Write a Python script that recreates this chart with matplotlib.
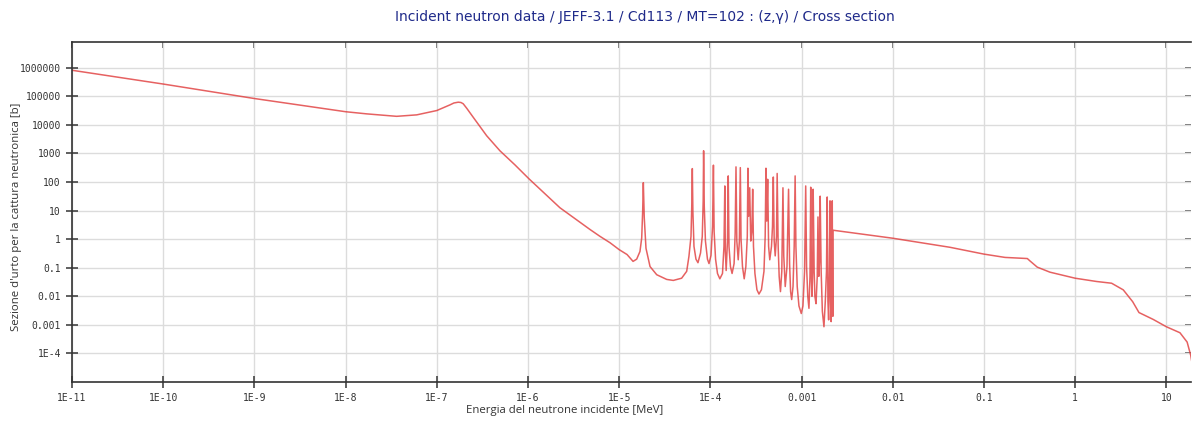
import numpy as np
import matplotlib
matplotlib.use('Agg')
import matplotlib.pyplot as plt
from matplotlib.ticker import FixedLocator, FixedFormatter, NullLocator

# energia [MeV] e sezione d'urto di cattura [b], letti dal grafico
# regione termica + 1/v
e_thermal = [1e-11, 1e-10, 1e-9, 1e-8, 1.70e-8, 3.63e-8, 6.03e-8, 1e-7,
             1.40e-7, 1.54e-7, 1.72e-7, 1.84e-7, 1.95e-7, 2.14e-7, 2.51e-7,
             3.52e-7, 4.93e-7, 7.19e-7, 1.03e-6, 2.24e-6, 4.79e-6, 6.15e-6,
             7.94e-6, 1e-5, 1.22e-5]
s_thermal = [8.2e5, 2.7e5, 8.4e4, 2.9e4, 2.44e4, 2.0e4, 2.25e4, 3.19e4,
             5.06e4, 5.86e4, 6.25e4, 6.1e4, 5.5e4, 3.75e4, 1.85e4,
             4.2e3, 1.24e3, 400, 128, 12.6, 2.18, 1.26,
             0.75, 0.43, 0.29]

# regione delle risonanze risolte (valli, fianchi, picchi)
e_res = [1.42e-5, 1.556e-5, 1.69e-5, 1.766e-5, 1.81e-5, 1.84e-5, 1.884e-5,
         1.968e-5, 2.18e-5, 2.58e-5, 3.32e-5, 3.92e-5, 4.84e-5, 5.50e-5,
         5.82e-5, 6.13e-5, 6.25e-5, 6.34e-5, 6.43e-5, 6.61e-5, 6.95e-5, 7.31e-5, 7.80e-5,
         8.15e-5, 8.34e-5, 8.43e-5, 8.57e-5, 8.83e-5, 9.29e-5, 9.66e-5, 1.016e-4,
         1.057e-4, 1.08e-4, 1.099e-4, 1.14e-4, 1.197e-4, 1.27e-4, 1.358e-4,
         1.41e-4, 1.44e-4, 1.46e-4, 1.49e-4,
         1.54e-4, 1.57e-4, 1.60e-4, 1.66e-4, 1.73e-4, 1.82e-4,
         1.87e-4, 1.91e-4, 1.95e-4, 2.02e-4, 2.08e-4,
         2.13e-4, 2.17e-4, 2.25e-4, 2.35e-4, 2.45e-4,
         2.54e-4, 2.58e-4, 2.63e-4, 2.70e-4, 2.77e-4, 2.85e-4, 2.91e-4, 2.97e-4,
         3.08e-4, 3.24e-4, 3.41e-4, 3.63e-4, 3.87e-4,
         3.99e-4, 4.07e-4, 4.15e-4, 4.25e-4, 4.35e-4, 4.48e-4, 4.68e-4, 4.80e-4,
         4.90e-4, 5.01e-4, 5.14e-4, 5.31e-4,
         5.40e-4, 5.54e-4, 5.68e-4, 5.87e-4, 6.07e-4,
         6.25e-4, 6.38e-4, 6.62e-4, 6.92e-4,
         7.20e-4, 7.39e-4, 7.58e-4, 7.79e-4, 8.06e-4, 8.30e-4,
         8.50e-4, 8.67e-4, 8.96e-4, 9.36e-4, 9.93e-4, 1.035e-3, 1.079e-3,
         1.11e-3, 1.135e-3, 1.17e-3, 1.205e-3, 1.237e-3,
         1.26e-3, 1.285e-3, 1.30e-3, 1.324e-3,
         1.34e-3, 1.374e-3, 1.40e-3, 1.44e-3, 1.486e-3,
         1.513e-3, 1.545e-3, 1.574e-3, 1.60e-3, 1.64e-3, 1.69e-3, 1.76e-3,
         1.82e-3, 1.876e-3,
         1.91e-3, 1.946e-3, 1.98e-3, 2.02e-3, 2.05e-3, 2.08e-3, 2.11e-3,
         2.14e-3, 2.17e-3, 2.19e-3, 2.205e-3]
s_res = [0.167, 0.2, 0.37, 1.1, 9.6, 95, 5.6,
         0.48, 0.11, 0.057, 0.039, 0.036, 0.043, 0.075,
         0.25, 1.25, 14, 296, 9.6, 0.56, 0.2, 0.15, 0.33,
         1.25, 21, 1245, 14, 0.86, 0.2, 0.14, 0.27,
         2.8, 390, 1.9, 0.2, 0.063, 0.041, 0.063,
         0.56, 73, 0.37, 0.08,
         0.86, 164, 0.56, 0.11, 0.063, 0.14,
         1.6, 340, 0.86, 0.19, 0.86,
         320, 0.99, 0.11, 0.041, 0.11,
         1.25, 305, 6.4, 63, 0.86, 1.9, 56, 0.56,
         0.063, 0.017, 0.012, 0.017, 0.075,
         1.25, 305, 4.3, 125, 0.56, 0.19, 0.56, 2.8,
         150, 0.86, 0.26, 1.25,
         200, 0.56, 0.05, 0.0146, 0.075,
         63, 0.26, 0.022, 0.11,
         56, 0.14, 0.0146, 0.0077, 0.022, 0.56,
         164, 0.56, 0.022, 0.0046, 0.0025, 0.0046, 0.075,
         73, 0.11, 0.01, 0.0038, 0.05,
         66, 0.033, 0.01, 0.075,
         56, 0.075, 0.01, 0.0055, 0.05,
         6.0, 0.05, 0.167, 32, 0.075, 0.003, 0.00086,
         0.0066, 0.075,
         30, 0.0066, 0.0015, 0.075, 22, 0.0066, 0.0013,
         0.033, 22, 0.003, 0.002]

# regione non risolta / alte energie
e_fast = [2.21e-3, 0.01, 0.0424, 0.1, 0.170, 0.299, 0.319, 0.384, 0.529, 1.0,
          1.72, 2.51, 3.37, 4.27, 5.01, 7.18, 10.0, 14.1, 16.9, 18.5, 20.0]
s_fast = [2.06, 1.08, 0.52, 0.30, 0.23, 0.21, 0.174, 0.105, 0.070, 0.043,
          0.033, 0.0287, 0.0168, 0.0065, 0.0027, 0.00155, 0.00086, 0.00053,
          0.00025, 8.6e-5, 2e-5]

x_ticks = [1e-11, 1e-10, 1e-9, 1e-8, 1e-7, 1e-6, 1e-5, 1e-4, 1e-3, 1e-2, 1e-1, 1, 10]
x_labels = ['1E-11', '1E-10', '1E-9', '1E-8', '1E-7', '1E-6', '1E-5', '1E-4',
            '0.001', '0.01', '0.1', '1', '10']
y_ticks = [1e6, 1e5, 1e4, 1e3, 1e2, 1e1, 1, 0.1, 0.01, 0.001, 1e-4]
y_labels = ['1000000', '100000', '10000', '1000', '100', '10', '1', '0.1',
            '0.01', '0.001', '1E-4']

energy = np.array(e_thermal + e_res + e_fast)
sigma = np.array(s_thermal + s_res + s_fast)

fig = plt.figure(figsize=(11.92, 4.24), dpi=100)
ax = fig.add_axes([72 / 1192, 1 - 382 / 424, 1118.5 / 1192, 340 / 424])

ax.plot(energy, sigma, color='#e03a3a', lw=1.1, alpha=0.8)
ax.set_xscale('log')
ax.set_yscale('log')
ax.set_xlim(1e-11, 18.4)
ax.set_ylim(1e-5, 8e6)

ax.xaxis.set_major_locator(FixedLocator(x_ticks))
ax.xaxis.set_major_formatter(FixedFormatter(x_labels))
ax.yaxis.set_major_locator(FixedLocator(y_ticks))
ax.yaxis.set_major_formatter(FixedFormatter(y_labels))
ax.xaxis.set_minor_locator(NullLocator())
ax.yaxis.set_minor_locator(NullLocator())

ax.grid(True, color='#dcdcdc', lw=1)
ax.set_axisbelow(True)
ax.tick_params(direction='inout', length=9, width=1.2, color='#444444',
               labelsize=7, labelcolor='#333333')
for lab in ax.get_xticklabels() + ax.get_yticklabels():
    lab.set_family('DejaVu Sans Mono')

for s in ['left', 'bottom', 'top']:
    ax.spines[s].set_color('#333333')
    ax.spines[s].set_linewidth(1.2)
ax.spines['right'].set_visible(False)

top = ax.secondary_xaxis('top')
top.set_xticks(x_ticks)
top.xaxis.set_minor_locator(NullLocator())
top.tick_params(direction='in', length=4, width=1.2, color='#555555', labeltop=False)
top.spines['top'].set_visible(False)
right = ax.secondary_yaxis('right')
right.set_yticks(y_ticks)
right.yaxis.set_minor_locator(NullLocator())
right.tick_params(direction='in', length=4, width=1.2, color='#555555', labelright=False)
right.spines['right'].set_visible(False)

fig.text(645 / 1192, 1 - 17 / 424,
         'Incident neutron data / JEFF-3.1 / Cd113 / MT=102 : (z,γ) / Cross section',
         ha='center', va='center', fontsize=10, color='#1f2a8a',
         family='DejaVu Sans')
fig.text(565 / 1192, 1 - 411 / 424, 'Energia del neutrone incidente [MeV]',
         ha='center', va='center', fontsize=8.2, color='#333333', family='Open Sans')
fig.text(17 / 1192, 1 - 217 / 424, "Sezione d'urto per la cattura neutronica [b]",
         ha='center', va='center', rotation=90, fontsize=8.2, color='#333333',
         family='Open Sans')

plt.savefig('out.png', dpi=100)
